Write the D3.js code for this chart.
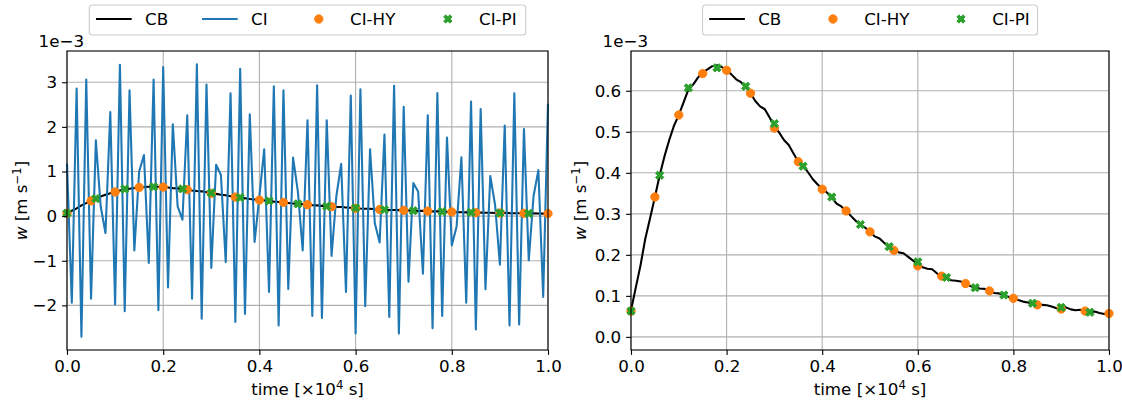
<!DOCTYPE html>
<html>
<head>
<meta charset="utf-8">
<script src="https://cdn.jsdelivr.net/npm/d3@7"></script>
<style>
body{margin:0;background:#fff;}
svg{font-family:"DejaVu Sans",sans-serif;}
</style>
</head>
<body>
<svg id="fig" width="1122" height="403"></svg>
<script>
// ---- data (w in units of 1e-3 m/s, time in units of 1e4 s)
var cbTime = d3.range(0, 101).map(function(i){ return i * 0.01; });
var cbValues = [0.065, 0.120, 0.175, 0.240, 0.290, 0.341, 0.394, 0.440, 0.480, 0.515,
	0.541, 0.572, 0.603, 0.615, 0.632, 0.645, 0.652, 0.660, 0.662, 0.658,
	0.650, 0.640, 0.628, 0.621, 0.610, 0.594, 0.575, 0.562, 0.555, 0.535,
	0.514, 0.498, 0.480, 0.468, 0.447, 0.427, 0.418, 0.402, 0.385, 0.372,
	0.361, 0.352, 0.340, 0.325, 0.318, 0.307, 0.295, 0.283, 0.275, 0.266,
	0.256, 0.245, 0.240, 0.229, 0.220, 0.211, 0.206, 0.204, 0.195, 0.186,
	0.178, 0.170, 0.166, 0.165, 0.155, 0.148, 0.146, 0.138, 0.137, 0.135,
	0.130, 0.124, 0.120, 0.118, 0.117, 0.112, 0.107, 0.106, 0.102, 0.097,
	0.094, 0.090, 0.086, 0.084, 0.082, 0.079, 0.078, 0.077, 0.074, 0.070,
	0.070, 0.072, 0.067, 0.065, 0.066, 0.063, 0.060, 0.062, 0.058, 0.056, 0.057];

var ciTime = d3.range(0, 101).map(function(i){ return i * 0.01; });
var ciValues = [1.18, -1.94, 2.86, -2.70, 3.06, -1.85, 1.70, 0.22, -0.38, 2.33,
	-1.98, 3.39, -2.13, 2.82, -0.77, 1.00, 1.37, -1.05, 3.06, -2.11,
	3.34, -1.60, 2.06, 0.22, -0.08, 2.26, -1.85, 3.40, -2.30, 2.95,
	-1.16, 1.15, 0.92, -1.03, 2.75, -2.37, 3.30, -2.19, 2.28, -0.58,
	0.45, 1.50, -1.70, 2.91, -2.45, 2.82, -1.63, 1.31, 0.55, -0.77,
	2.15, -2.24, 2.93, -2.28, 2.15, -0.89, 0.45, 1.17, -1.70, 2.70,
	-2.63, 2.84, -2.02, 1.50, -0.16, -0.59, 1.83, -2.26, 2.92, -2.63,
	2.45, -1.47, 0.74, 0.55, -1.29, 2.26, -2.51, 2.76, -2.24, 1.76,
	-0.66, -0.23, 1.32, -1.94, 2.57, -2.54, 2.40, -1.64, 0.90, 0.25,
	-1.09, 2.03, -2.45, 2.75, -2.43, 1.95, -0.99, 0.45, 1.03, -1.81, 2.52];

var hyTime = d3.range(0, 21).map(function(i){ return i * 0.05; });
var hyValues = [0.063, 0.341, 0.541, 0.642, 0.650, 0.594, 0.509, 0.427, 0.360, 0.307,
	0.256, 0.211, 0.173, 0.148, 0.130, 0.112, 0.094, 0.078, 0.068, 0.063, 0.057];

var piTime = d3.range(0, 17).map(function(i){ return i * 0.06; });
var piValues = [0.063, 0.394, 0.607, 0.656, 0.611, 0.520, 0.416, 0.341, 0.274,
	0.220, 0.183, 0.145, 0.120, 0.102, 0.082, 0.072, 0.060];

var xTicks = [0, 0.2, 0.4, 0.6, 0.8, 1.0];
var leftYTicks = [-2, -1, 0, 1, 2, 3];
var rightYTicks = [0, 0.1, 0.2, 0.3, 0.4, 0.5, 0.6];

// ---- styles
var Config = {
	font: 16.7,
	colors: { cb: "#000000", ci: "#1f77b4", hy: "#ff7f0e", pi: "#2ca02c", grid: "#b0b0b0" },
	lw: 2.08,
	ms: 8.3
};

var svg = d3.select("#fig");

// matplotlib filled "X" marker
function xMarker(size){
	var pts = [[-1,-2],[0,-1],[1,-2],[2,-1],[1,0],[2,1],[1,2],[0,1],[-1,2],[-2,1],[-1,0],[-2,-1]];
	var k = size / 4;
	return "M" + pts.map(function(p){ return (p[0]*k) + "," + (p[1]*k); }).join("L") + "Z";
}

function drawPanel(cfg){
	var g = svg.append("g");
	var x = d3.scaleLinear().domain([0, 1]).range([cfg.left, cfg.right]);
	var y = d3.scaleLinear().domain(cfg.yDomain).range([cfg.bottom, cfg.top]);

	// grid
	g.append("g").selectAll("line").data(xTicks).join("line")
		.attr("x1", function(d){ return x(d); }).attr("x2", function(d){ return x(d); })
		.attr("y1", cfg.top).attr("y2", cfg.bottom)
		.attr("stroke", Config.colors.grid).attr("stroke-width", 1.1);
	g.append("g").selectAll("line").data(cfg.yTicks).join("line")
		.attr("y1", function(d){ return y(d); }).attr("y2", function(d){ return y(d); })
		.attr("x1", cfg.left).attr("x2", cfg.right)
		.attr("stroke", Config.colors.grid).attr("stroke-width", 1.1);

	var plot = g.append("g");
	var line = d3.line().x(function(d){ return x(d[0]); }).y(function(d){ return y(d[1]); });

	plot.append("path").datum(d3.zip(cbTime, cbValues))
		.attr("d", line).attr("fill", "none")
		.attr("stroke", Config.colors.cb).attr("stroke-width", Config.lw)
		.attr("stroke-linejoin", "round");

	if(cfg.showCI){
		plot.append("path").datum(d3.zip(ciTime, ciValues))
			.attr("d", line).attr("fill", "none")
			.attr("stroke", Config.colors.ci).attr("stroke-width", Config.lw)
			.attr("stroke-linejoin", "round");
	}

	plot.append("g").selectAll("circle").data(d3.zip(hyTime, hyValues)).join("circle")
		.attr("cx", function(d){ return x(d[0]); }).attr("cy", function(d){ return y(d[1]); })
		.attr("r", Config.ms / 2)
		.attr("fill", Config.colors.hy).attr("stroke", Config.colors.hy).attr("stroke-width", 1);

	plot.append("g").selectAll("path").data(d3.zip(piTime, piValues)).join("path")
		.attr("d", xMarker(Config.ms))
		.attr("transform", function(d){ return "translate(" + x(d[0]) + "," + y(d[1]) + ")"; })
		.attr("fill", Config.colors.pi).attr("stroke", Config.colors.pi).attr("stroke-width", 1)
		.attr("stroke-linejoin", "round");

	// axes
	var xa = g.append("g").attr("transform", "translate(0," + cfg.bottom + ")")
		.call(d3.axisBottom(x).tickValues(xTicks).tickFormat(d3.format(".1f")).tickSizeOuter(0).tickSize(4.9).tickPadding(4.9));
	var ya = g.append("g").attr("transform", "translate(" + cfg.left + ",0)")
		.call(d3.axisLeft(y).tickValues(cfg.yTicks).tickFormat(cfg.yFormat).tickSizeOuter(0).tickSize(4.9).tickPadding(4.9));
	[xa, ya].forEach(function(a){
		a.select(".domain").remove();
		a.selectAll("line").attr("stroke", "#000").attr("stroke-width", 1.1);
		a.selectAll("text").attr("font-size", Config.font).attr("fill", "#000")
			.attr("font-family", "DejaVu Sans");
	});

	// frame
	g.append("rect").attr("x", cfg.left).attr("y", cfg.top)
		.attr("width", cfg.right - cfg.left).attr("height", cfg.bottom - cfg.top)
		.attr("fill", "none").attr("stroke", "#000").attr("stroke-width", 1.1);

	// offset text
	g.append("text").attr("x", cfg.left + 17).attr("y", 47).attr("text-anchor", "end")
		.attr("font-size", Config.font).text("1e\u22123");

	// x label
	var xl = g.append("text").attr("x", (cfg.left + cfg.right) / 2).attr("y", 395)
		.attr("text-anchor", "middle").attr("font-size", Config.font);
	xl.append("tspan").text("time [\u00d710");
	xl.append("tspan").attr("dy", -6).attr("font-size", Config.font * 0.7).text("4");
	xl.append("tspan").attr("dy", 6).text(" s]");

	// y label
	var yl = g.append("text")
		.attr("transform", "translate(" + cfg.ylabelX + "," + ((cfg.top + cfg.bottom) / 2) + ") rotate(-90)")
		.attr("text-anchor", "middle").attr("font-size", Config.font);
	yl.append("tspan").attr("font-style", "italic").text("w");
	yl.append("tspan").text(" [m s");
	yl.append("tspan").attr("dy", -6).attr("font-size", Config.font * 0.7).text("\u22121");
	yl.append("tspan").attr("dy", 6).text("]");

	// legend
	var items = cfg.legend;
	var lg = g.append("g");
	var boxW = cfg.legendWidth, cx = (cfg.left + cfg.right) / 2;
	var bx = cx - boxW / 2;
	lg.append("rect").attr("x", bx).attr("y", 5).attr("width", boxW).attr("height", 30)
		.attr("rx", 3).attr("fill", "#fff").attr("fill-opacity", 0.8)
		.attr("stroke", "#cccccc").attr("stroke-width", 1.1);
	var hx = bx + 6.7;
	items.forEach(function(it){
		var h = hx + it.offset;
		if(it.type == "line"){
			lg.append("line").attr("x1", h).attr("x2", h + 35.7).attr("y1", 19).attr("y2", 19)
				.attr("stroke", it.color).attr("stroke-width", Config.lw);
		} else if(it.type == "circle"){
			lg.append("circle").attr("cx", h + 17.8).attr("cy", 19).attr("r", Config.ms / 2)
				.attr("fill", it.color).attr("stroke", it.color).attr("stroke-width", 1);
		} else {
			lg.append("path").attr("d", xMarker(Config.ms))
				.attr("transform", "translate(" + (h + 17.8) + ",19)")
				.attr("fill", it.color).attr("stroke", it.color).attr("stroke-width", 1);
		}
		lg.append("text").attr("x", h + 49).attr("y", 25).attr("font-size", Config.font).text(it.label);
	});
}

drawPanel({
	left: 67, right: 548, top: 51, bottom: 350,
	yDomain: [-3.0, 3.7], yTicks: leftYTicks, yFormat: d3.format("d"),
	ylabelX: 27, showCI: true, legendWidth: 436.4,
	legend: [
		{label: "CB", type: "line", color: Config.colors.cb, offset: 0},
		{label: "CI", type: "line", color: Config.colors.ci, offset: 106},
		{label: "CI-HY", type: "circle", color: Config.colors.hy, offset: 205},
		{label: "CI-PI", type: "x", color: Config.colors.pi, offset: 334}
	]
});

drawPanel({
	left: 631, right: 1109, top: 51, bottom: 350,
	yDomain: [-0.032, 0.697], yTicks: rightYTicks, yFormat: d3.format(".1f"),
	ylabelX: 586, showCI: false, legendWidth: 335,
	legend: [
		{label: "CB", type: "line", color: Config.colors.cb, offset: 0},
		{label: "CI-HY", type: "circle", color: Config.colors.hy, offset: 106},
		{label: "CI-PI", type: "x", color: Config.colors.pi, offset: 234}
	]
});
</script>
</body>
</html>
